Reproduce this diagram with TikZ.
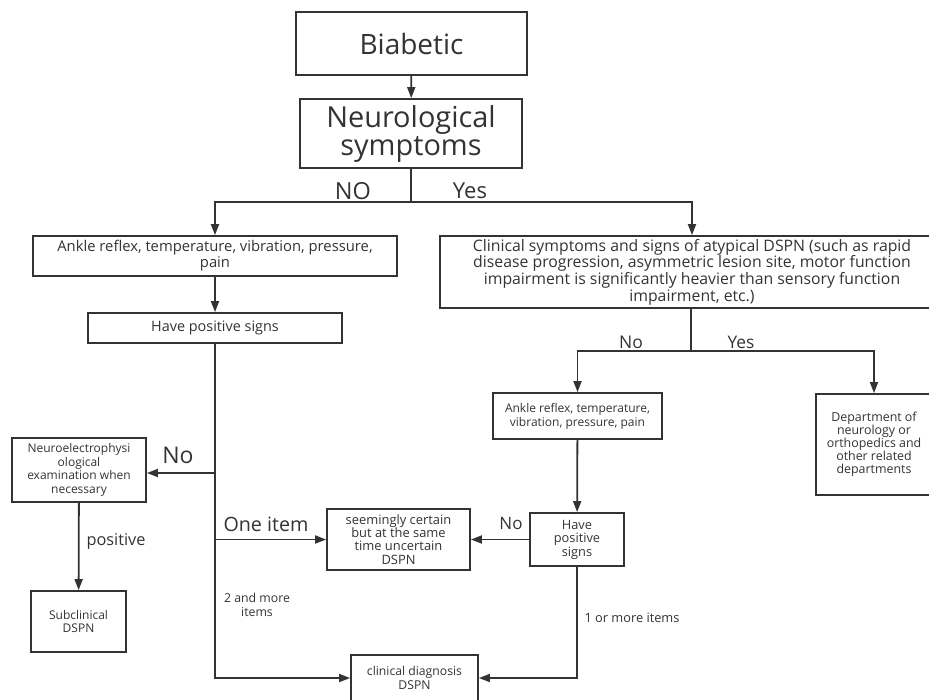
\documentclass[tikz,border=0pt]{standalone}
\usepackage{fontspec}
\setmainfont{Open Sans}
\usetikzlibrary{arrows.meta}
\definecolor{ink}{HTML}{333333}
\tikzset{
  box/.style={draw=ink, line width=1.8pt, rectangle, inner sep=0pt, align=center, text=ink},
  conn/.style={draw=ink, line width=1.8pt},
  arr/.style={conn, -{Triangle[length=11pt,width=8pt]}},
  lbl/.style={text=ink, inner sep=0pt, align=center},
}
\newcommand{\fs}[2]{\fontsize{#1}{#2}\selectfont}
\begin{document}
\begin{tikzpicture}[x=1pt,y=-1pt]
\useasboundingbox (0,0) rectangle (929,699);
\clip (0,0) rectangle (929,699);
% nodes
\node[box, minimum width=231pt, minimum height=63pt, font=\fs{28}{30}] (bia) at (411.5,43.5) {Biabetic};
\node[box, minimum width=222pt, minimum height=69pt, font=\fs{28.9}{28}] (neu) at (411,133.5) {Neurological\\symptoms};
\node[box, minimum width=364pt, minimum height=40pt, font=\fs{14.8}{16}] (ankL) at (215,256) {Ankle reflex, temperature, vibration, pressure,\\pain};
\node[box, minimum width=504pt, minimum height=72pt, font=\fs{15.8}{15.2}] (clin) at (692,272) {Clinical symptoms and signs of atypical DSPN (such as rapid\\disease progression, asymmetric lesion site, motor function\\impairment is significantly heavier than sensory function\\impairment, etc.)};
\node[box, minimum width=254pt, minimum height=30pt, font=\fs{14.4}{15}] (hpsL) at (215,328) {Have positive signs};
\node[box, minimum width=169pt, minimum height=46pt, font=\fs{12}{14}] (ankR) at (577.5,416) {Ankle reflex, temperature,\\vibration, pressure, pain};
\node[box, minimum width=116pt, minimum height=101pt, font=\fs{12.4}{12.9}] (dept) at (874,444.5) {Department of\\neurology or\\orthopedics and\\other related\\departments};
\node[box, minimum width=134pt, minimum height=64pt, font=\fs{12}{13.7}] (neuro) at (79,470) {Neuroelectrophysi\\ological\\examination when\\necessary};
\node[box, minimum width=94pt, minimum height=53pt, font=\fs{12.8}{13.5}] (hpsR) at (577,539.5) {Have\\positive\\signs};
\node[box, minimum width=143pt, minimum height=61pt, font=\fs{12.9}{13.3}] (seem) at (398.5,539.5) {seemingly certain\\but at the same\\time uncertain\\DSPN};
\node[box, minimum width=95pt, minimum height=61pt, font=\fs{12}{13.5}] (sub) at (78.5,621.5) {Subclinical\\DSPN};
\node[box, minimum width=127pt, minimum height=46pt, font=\fs{12.2}{13.5}] (cdx) at (414.5,678) {clinical diagnosis\\DSPN};
% junctions
\coordinate (j1) at (411,202);
\coordinate (j2) at (691,351);
\coordinate (b1) at (215,473);
\coordinate (b2) at (215,539.5);
% connectors
\draw[arr] (bia) -- (neu);
\draw[conn] (neu.south) -- (j1);
\draw[arr] (j1) -| (ankL.north);
\draw[arr] (j1) -| (clin.north);
\draw[arr] (ankL) -- (hpsL);
\draw[arr] (hpsL.south) |- (cdx.west);
\draw[arr] (b1) -- (b1 -| neuro.east);
\draw[arr] (b2) -- (seem.west);
\draw[arr] (neuro) -- (sub);
\draw[conn] (clin.south -| j2) -- (j2);
\draw[arr] (j2) -| (ankR.north);
\draw[arr] (j2) -| (dept.north);
\draw[arr] (ankR) -- (hpsR);
\draw[arr] (hpsR.west) -- (seem.east);
\draw[arr] (hpsR.south) |- (cdx.east);
% labels
\node[lbl, font=\fs{23.5}{24}] (lNO) at (353,191) {NO};
\node[lbl, font=\fs{22}{24}] (lYes) at (470,191) {Yes};
\node[lbl, font=\fs{23}{24}] (lNo1) at (178,455) {No};
\node[lbl, font=\fs{19.7}{21}] (lOne) at (266,524) {One item};
\node[lbl, font=\fs{16.3}{18}] (lpos) at (116,541) {positive};
\node[lbl, font=\fs{12.3}{14.5}] (l2m) at (257,605) {2 and more\\items};
\node[lbl, font=\fs{17.5}{19}] (lNo2) at (631,342) {No};
\node[lbl, font=\fs{17.3}{19}] (lYes2) at (741,342) {Yes};
\node[lbl, font=\fs{17}{19}] (lNo3) at (511,524) {No};
\node[lbl, font=\fs{12.8}{14}] (l1m) at (632,618) {1 or more items};
\end{tikzpicture}
\end{document}
